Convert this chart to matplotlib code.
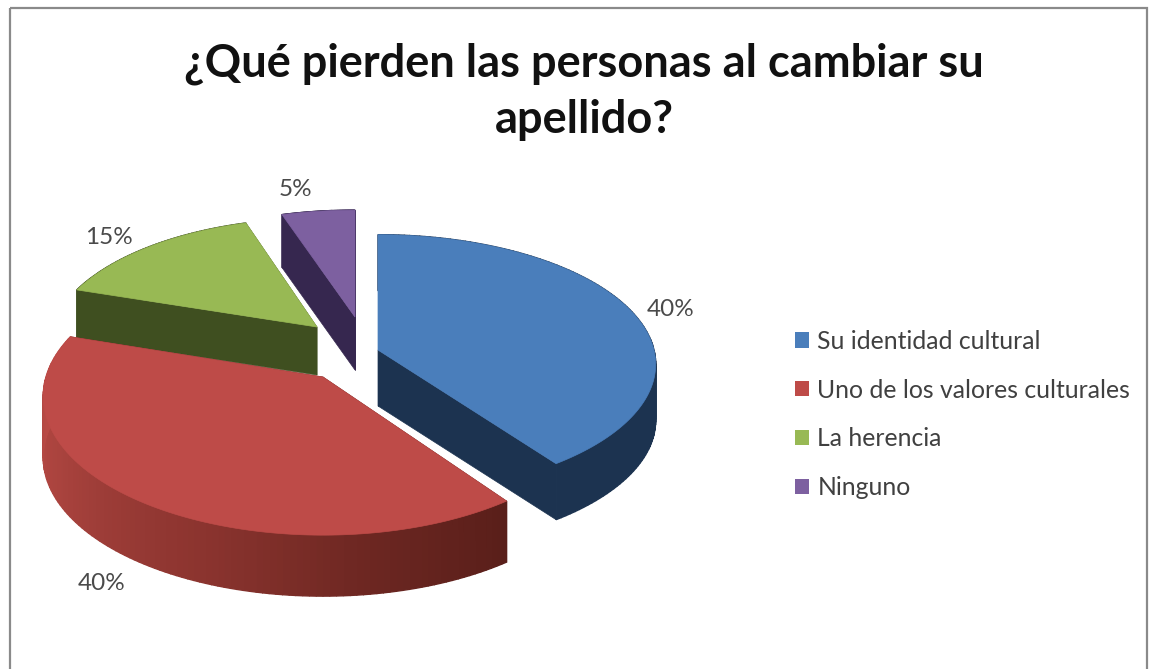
# exploded 3d style pie, drawn by hand since matplotlib has no tilted pie
import numpy as np
import matplotlib
matplotlib.use("Agg")
import matplotlib.pyplot as plt
from matplotlib.patches import Polygon, Rectangle, Patch

plt.rcParams['font.family'] = ['Lato', 'DejaVu Sans']

## data
categories = ["Su identidad cultural", "Uno de los valores culturales", "La herencia", "Ninguno"]
values = [40, 40, 15, 5]
pct_labels = ["40%", "40%", "15%", "5%"]
title = "¿Qué pierden las personas al cambiar su\napellido?"

## styles
top_colors = ["#4a7ebb", "#be4b48", "#98b954", "#7d60a0"]
face_colors = ["#1c3350", "#5a1f1a", "#3f4f20", "#36274f"]
# colour of the outer wall, going with the angle
wall_angles = [0, 90, 144, 170, 200, 240, 270, 360]
wall_red = [(0.35, 0.12, 0.10), (0.35, 0.12, 0.10), (0.35, 0.12, 0.10), (0.42, 0.15, 0.13),
            (0.54, 0.20, 0.18), (0.66, 0.26, 0.24), (0.72, 0.29, 0.27), (0.72, 0.29, 0.27)]
apex = [(378, 350), (323, 377), (317, 327), (355, 317)]
depth = [56, 61, 48, 53]
radius_x = [276, 277, 265, 272]
radius_y = [128, 136, 126, 124]
persp = [0.11, 0.14, 0.16, 0.16]
label_pos = [(671, 309), (102, 583), (109, 238), (295, 190)]
draw_order = [3, 2, 0, 1]

fig = plt.figure(figsize=(11.58, 6.69), dpi=100)
ax = fig.add_axes([0, 0, 1, 1])
ax.set_xlim(0, 1158)
ax.set_ylim(669, 0)
ax.axis("off")

ax.add_patch(Rectangle((10, 8), 1137, 680, fill=False, edgecolor="#8a8a8a", lw=1.6))


def project(i, ang):
    # angle in degrees clockwise from 12 o'clock, with some perspective
    u = np.sin(np.radians(ang))
    v = np.cos(np.radians(ang))
    s = 1 / (1 + persp[i] * v)
    return apex[i][0] + radius_x[i] * u * s, apex[i][1] - radius_y[i] * v * s


ends = np.cumsum(values) / np.sum(values) * 360
starts = np.concatenate([[0], ends[:-1]])

for i in draw_order:
    cx, cy = apex[i]
    d = depth[i]
    ang = np.linspace(starts[i], ends[i], 121)
    x, y = project(i, ang)
    # flat cut faces
    for j in [0, -1]:
        ax.add_patch(Polygon([(cx, cy), (x[j], y[j]), (x[j], y[j] + d), (cx, cy + d)],
                             facecolor=face_colors[i], edgecolor=face_colors[i], lw=0.5))
    # outer wall as small quads, only the red one has a visible gradient
    for j in range(len(ang) - 1):
        if i == 1:
            col = [np.interp(ang[j], wall_angles, [c[n] for c in wall_red]) for n in range(3)]
        else:
            col = face_colors[i]
        ax.add_patch(Polygon([(x[j], y[j]), (x[j + 1], y[j + 1]), (x[j + 1], y[j + 1] + d), (x[j], y[j] + d)],
                             facecolor=col, edgecolor=col, lw=1.0))
    # top
    ax.add_patch(Polygon(np.vstack([[cx, cy], np.column_stack([x, y])]),
                         facecolor=top_colors[i], edgecolor=top_colors[i], lw=0.5))

for lab, (lx, ly) in zip(pct_labels, label_pos):
    ax.text(lx, ly, lab, fontsize=17.5, color="#4a4a4a", ha="center", va="center")

ax.text(584, 91.5, title, fontsize=32.5, fontweight="bold", color="#111111",
        ha="center", va="center", linespacing=1.42)

handles = [Patch(facecolor=c, label=n) for c, n in zip(top_colors, categories)]
ax.legend(handles=handles, loc="center left", bbox_to_anchor=(795, 414.5), bbox_transform=ax.transData,
          frameon=False, fontsize=17.8, handlelength=0.58, handleheight=0.58, handletextpad=0.32,
          labelspacing=1.05, labelcolor="#404040", borderpad=0, borderaxespad=0)

fig.savefig("out.png", dpi=100)
